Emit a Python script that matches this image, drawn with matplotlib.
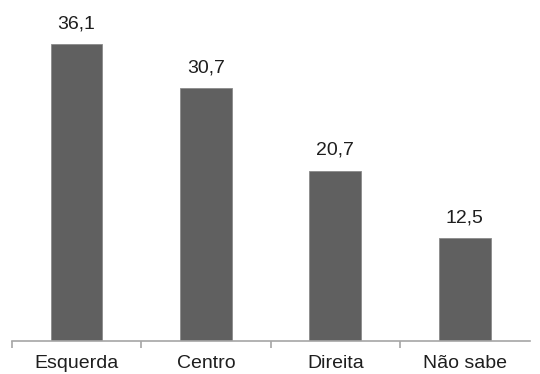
import matplotlib.pyplot as plt
import numpy as np

categories = ["Esquerda", "Centro", "Direita", "Não sabe"]
values = [36.1, 30.7, 20.7, 12.5]

bar_color = "#606060"
axis_color = "#a6a6a6"
text_color = "#1e1e1e"

plt.rcParams["font.family"] = ["Liberation Sans", "DejaVu Sans"]

fig = plt.figure(figsize=(5.4, 3.74), dpi=100)
ax = fig.add_axes([0.0217, 0.0882, 0.959, 0.88])

x = np.arange(len(categories))
bars = ax.bar(x, values, width=0.4, color=bar_color, edgecolor="#8a8a8a", linewidth=0.6)

# value labels above bars, decimal comma
for bar, v in zip(bars, values):
    ax.annotate(f"{v:.1f}".replace(".", ","),
                xy=(bar.get_x() + bar.get_width() / 2, v),
                xytext=(0, 11.5), textcoords="offset points",
                ha="center", va="baseline", fontsize=14, color=text_color)

ax.set_xlim(-0.5, len(categories) - 0.5)
ax.set_ylim(0, 40)

for side in ["top", "right", "left"]:
    ax.spines[side].set_visible(False)
ax.spines["bottom"].set_color(axis_color)
ax.spines["bottom"].set_linewidth(1.2)

ax.set_yticks([])
ax.set_xticks(x)
ax.set_xticklabels(categories, fontsize=14, color=text_color)
ax.tick_params(axis="x", which="major", length=0, pad=10)
ax.set_xticks(np.arange(-0.5, len(categories) - 0.5, 1.0), minor=True)
ax.tick_params(axis="x", which="minor", length=5, width=1.2, color=axis_color)

fig.savefig("out.png", dpi=100)
